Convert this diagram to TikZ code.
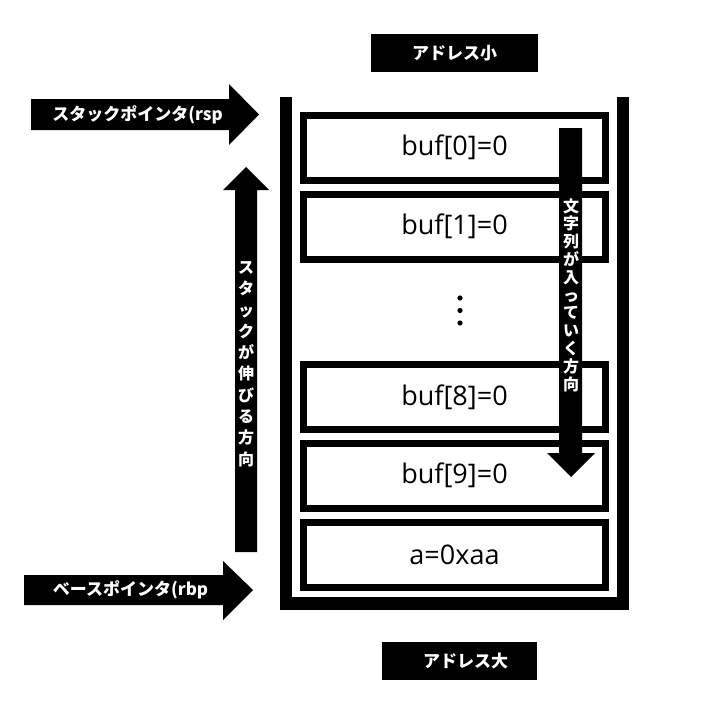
\documentclass[tikz,border=0pt]{standalone}
\usepackage{fontspec}
\setmainfont{Open Sans}
\newfontfamily\jpfont{Noto Sans CJK JP}
\usetikzlibrary{calc}

\begin{document}
\begin{tikzpicture}[x=1pt, y=-1pt,
                cell/.style={draw, line width=7pt, minimum width=302pt, minimum height=65pt,
                    inner sep=0pt, font=\fontsize{27}{30}\selectfont},
                tag/.style={fill=black, text=white, inner sep=0pt,
                    font=\jpfont\bfseries\fontsize{17}{20}\selectfont},
                vtag/.style={text=white, align=center, inner sep=0pt},
                fat arrow/.style={fill=black}
            ]
            \useasboundingbox (0,0) rectangle (702,704);

            % stack frame
            \draw[line width=12.5pt, line join=miter] (286,97) -- (286,603.5) -- (623,603.5) -- (623,97);
            \node[cell] (buf0) at (454.5,147.5) {buf[0]=0};
            \node[cell] (buf1) at (454.5,226.5) {buf[1]=0};
            \node[cell] (buf8) at (454.5,397) {buf[8]=0};
            \node[cell] (buf9) at (454.5,475.5) {buf[9]=0};
            \node[cell] (vara) at (454.5,554.5) {a=0xaa};
            \foreach \y in {298, 310.5, 323} \fill (460,\y) circle[radius=2.6];

            % address labels
            \node[tag, minimum width=167pt, minimum height=38pt] (low) at (454.5,53) {アドレス小};
            \node[tag, minimum width=155pt, minimum height=38pt] (high) at (459.5,661) {\hspace{12pt}アドレス大};

            % pointers
            \fill[fat arrow] (31,99) -- (229,99) -- (229,84) -- (259,114.5) -- (229,145) -- (229,130) -- (31,130) -- cycle;
            \node[tag, fill=none] (rsp) at (137.5,114.5) {スタックポインタ(rsp};
            \fill[fat arrow] (24,575) -- (223,575) -- (223,561) -- (253,590) -- (223,620) -- (223,605) -- (24,605) -- cycle;
            \node[tag, fill=none] (rbp) at (130.5,590) {ベースポインタ(rbp};

            % directions
            \fill[fat arrow] (235,552) -- (235,190) -- (223,190) -- (246,167) -- (269,190) -- (257,190) -- (257,552) -- cycle;
            \node[vtag, font=\jpfont\bfseries\fontsize{16}{21.3}\selectfont] (grow) at (246,364)
                {ス\\タ\\ッ\\ク\\が\\伸\\び\\る\\方\\向};
            \fill[fat arrow] (559,128) -- (582,128) -- (582,453) -- (595,453) -- (571,477) -- (547,453) -- (559,453) -- cycle;
            \node[vtag, font=\jpfont\bfseries\fontsize{16}{17.8}\selectfont] (input) at (571,295)
                {文\\字\\列\\が\\入\\っ\\て\\い\\く\\方\\向};
        \end{tikzpicture}
\end{document}
